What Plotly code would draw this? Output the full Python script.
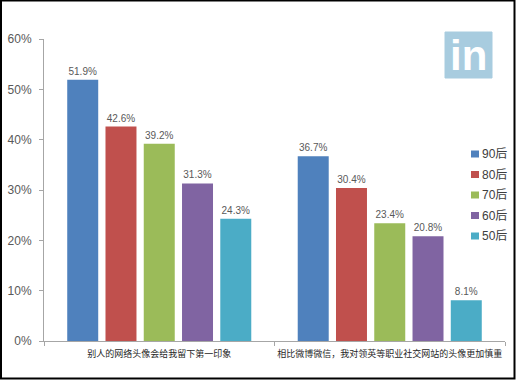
import plotly.graph_objects as go

categories = ["别人的网络头像会给我留下第一印象", "相比微博微信，我对领英等职业社交网站的头像更加慎重"]
series_names = ["90后", "80后", "70后", "60后", "50后"]
v90 = [51.9, 36.7]
v80 = [42.6, 30.4]
v70 = [39.2, 23.4]
v60 = [31.3, 20.8]
v50 = [24.3, 8.1]
series_values = [v90, v80, v70, v60, v50]
colors = ["#4F81BD", "#C0504D", "#9BBB59", "#8064A2", "#4BACC6"]
tick_vals = [0, 10, 20, 30, 40, 50, 60]
tick_text = ["0%", "10%", "20%", "30%", "40%", "50%", "60%"]

W, H = 516, 380
L, R, T, B = 44, 505, 39, 341
FONT = "Liberation Sans, Noto Sans CJK SC, sans-serif"


def px(x):
    return (x - L) / (R - L)


def py(y):
    return (B - y) / (B - T)


fig = go.Figure()
for name, vals, c in zip(series_names, series_values, colors):
    fig.add_trace(go.Bar(
        name=name, x=categories, y=vals, marker=dict(color=c, line=dict(width=0)),
        text=[f"{v:.1f}%" for v in vals], textposition="outside", cliponaxis=False,
        constraintext="none", textangle=0,
        textfont=dict(size=10, color="#595959", family=FONT),
        showlegend=False,
    ))

shapes = [
    dict(type="rect", xref="paper", yref="paper",
         x0=px(1), x1=px(514.5), y0=py(378.5), y1=py(0.5),
         line=dict(color="#000000", width=2), fillcolor="rgba(0,0,0,0)", layer="above"),
    dict(type="rect", xref="paper", yref="paper",
         x0=px(445), x1=px(492), y0=py(78), y1=py(32),
         line=dict(color="#A8CCDF", width=1), fillcolor="#A8CCDF", layer="below"),
]
annotations = [dict(
    text="<b>in</b>", xref="paper", yref="paper",
    x=px(468.5), y=py(55), xanchor="center", yanchor="middle",
    showarrow=False, font=dict(size=42, color="white", family="Liberation Sans, sans-serif"),
)]
for i, (name, c) in enumerate(zip(series_names, colors)):
    yc = 154 + i * 20.5
    shapes.append(dict(type="rect", xref="paper", yref="paper",
                       x0=px(471), x1=px(479), y0=py(yc + 3.5), y1=py(yc - 3.5),
                       line=dict(width=0), fillcolor=c))
    annotations.append(dict(text=name, xref="paper", yref="paper", x=px(479.5), y=py(yc),
                            xanchor="left", yanchor="middle", showarrow=False,
                            font=dict(size=12, color="#404040", family=FONT)))

fig.update_layout(
    width=W, height=H, autosize=False,
    margin=dict(l=L, r=W - R, t=T, b=H - B, autoexpand=False),
    paper_bgcolor="white", plot_bgcolor="white",
    barmode="group", bargap=0.17, bargroupgap=0.19,
    font=dict(family=FONT, color="#595959"),
    showlegend=False,
    xaxis=dict(
        showgrid=False, showline=True, linecolor="#A6A6A6", linewidth=1, automargin=False,
        ticks="outside", ticklen=4, tickcolor="#A6A6A6", tickangle=0, ticklabelstandoff=4,
        tickfont=dict(size=9, color="#262626", family=FONT), tickson="boundaries",
    ),
    yaxis=dict(
        range=[0, 60], tickvals=tick_vals, ticktext=tick_text, showgrid=False, zeroline=False,
        showline=True, linecolor="#A6A6A6", linewidth=1, automargin=False,
        ticks="outside", ticklen=4, tickcolor="#A6A6A6", ticklabelstandoff=5,
        tickfont=dict(size=12, color="#595959", family=FONT),
    ),
    shapes=shapes,
    annotations=annotations,
)
fig.write_html("out.html", config={"displayModeBar": False},
               post_script="document.body.style.margin='0';document.documentElement.style.overflow='hidden';")
